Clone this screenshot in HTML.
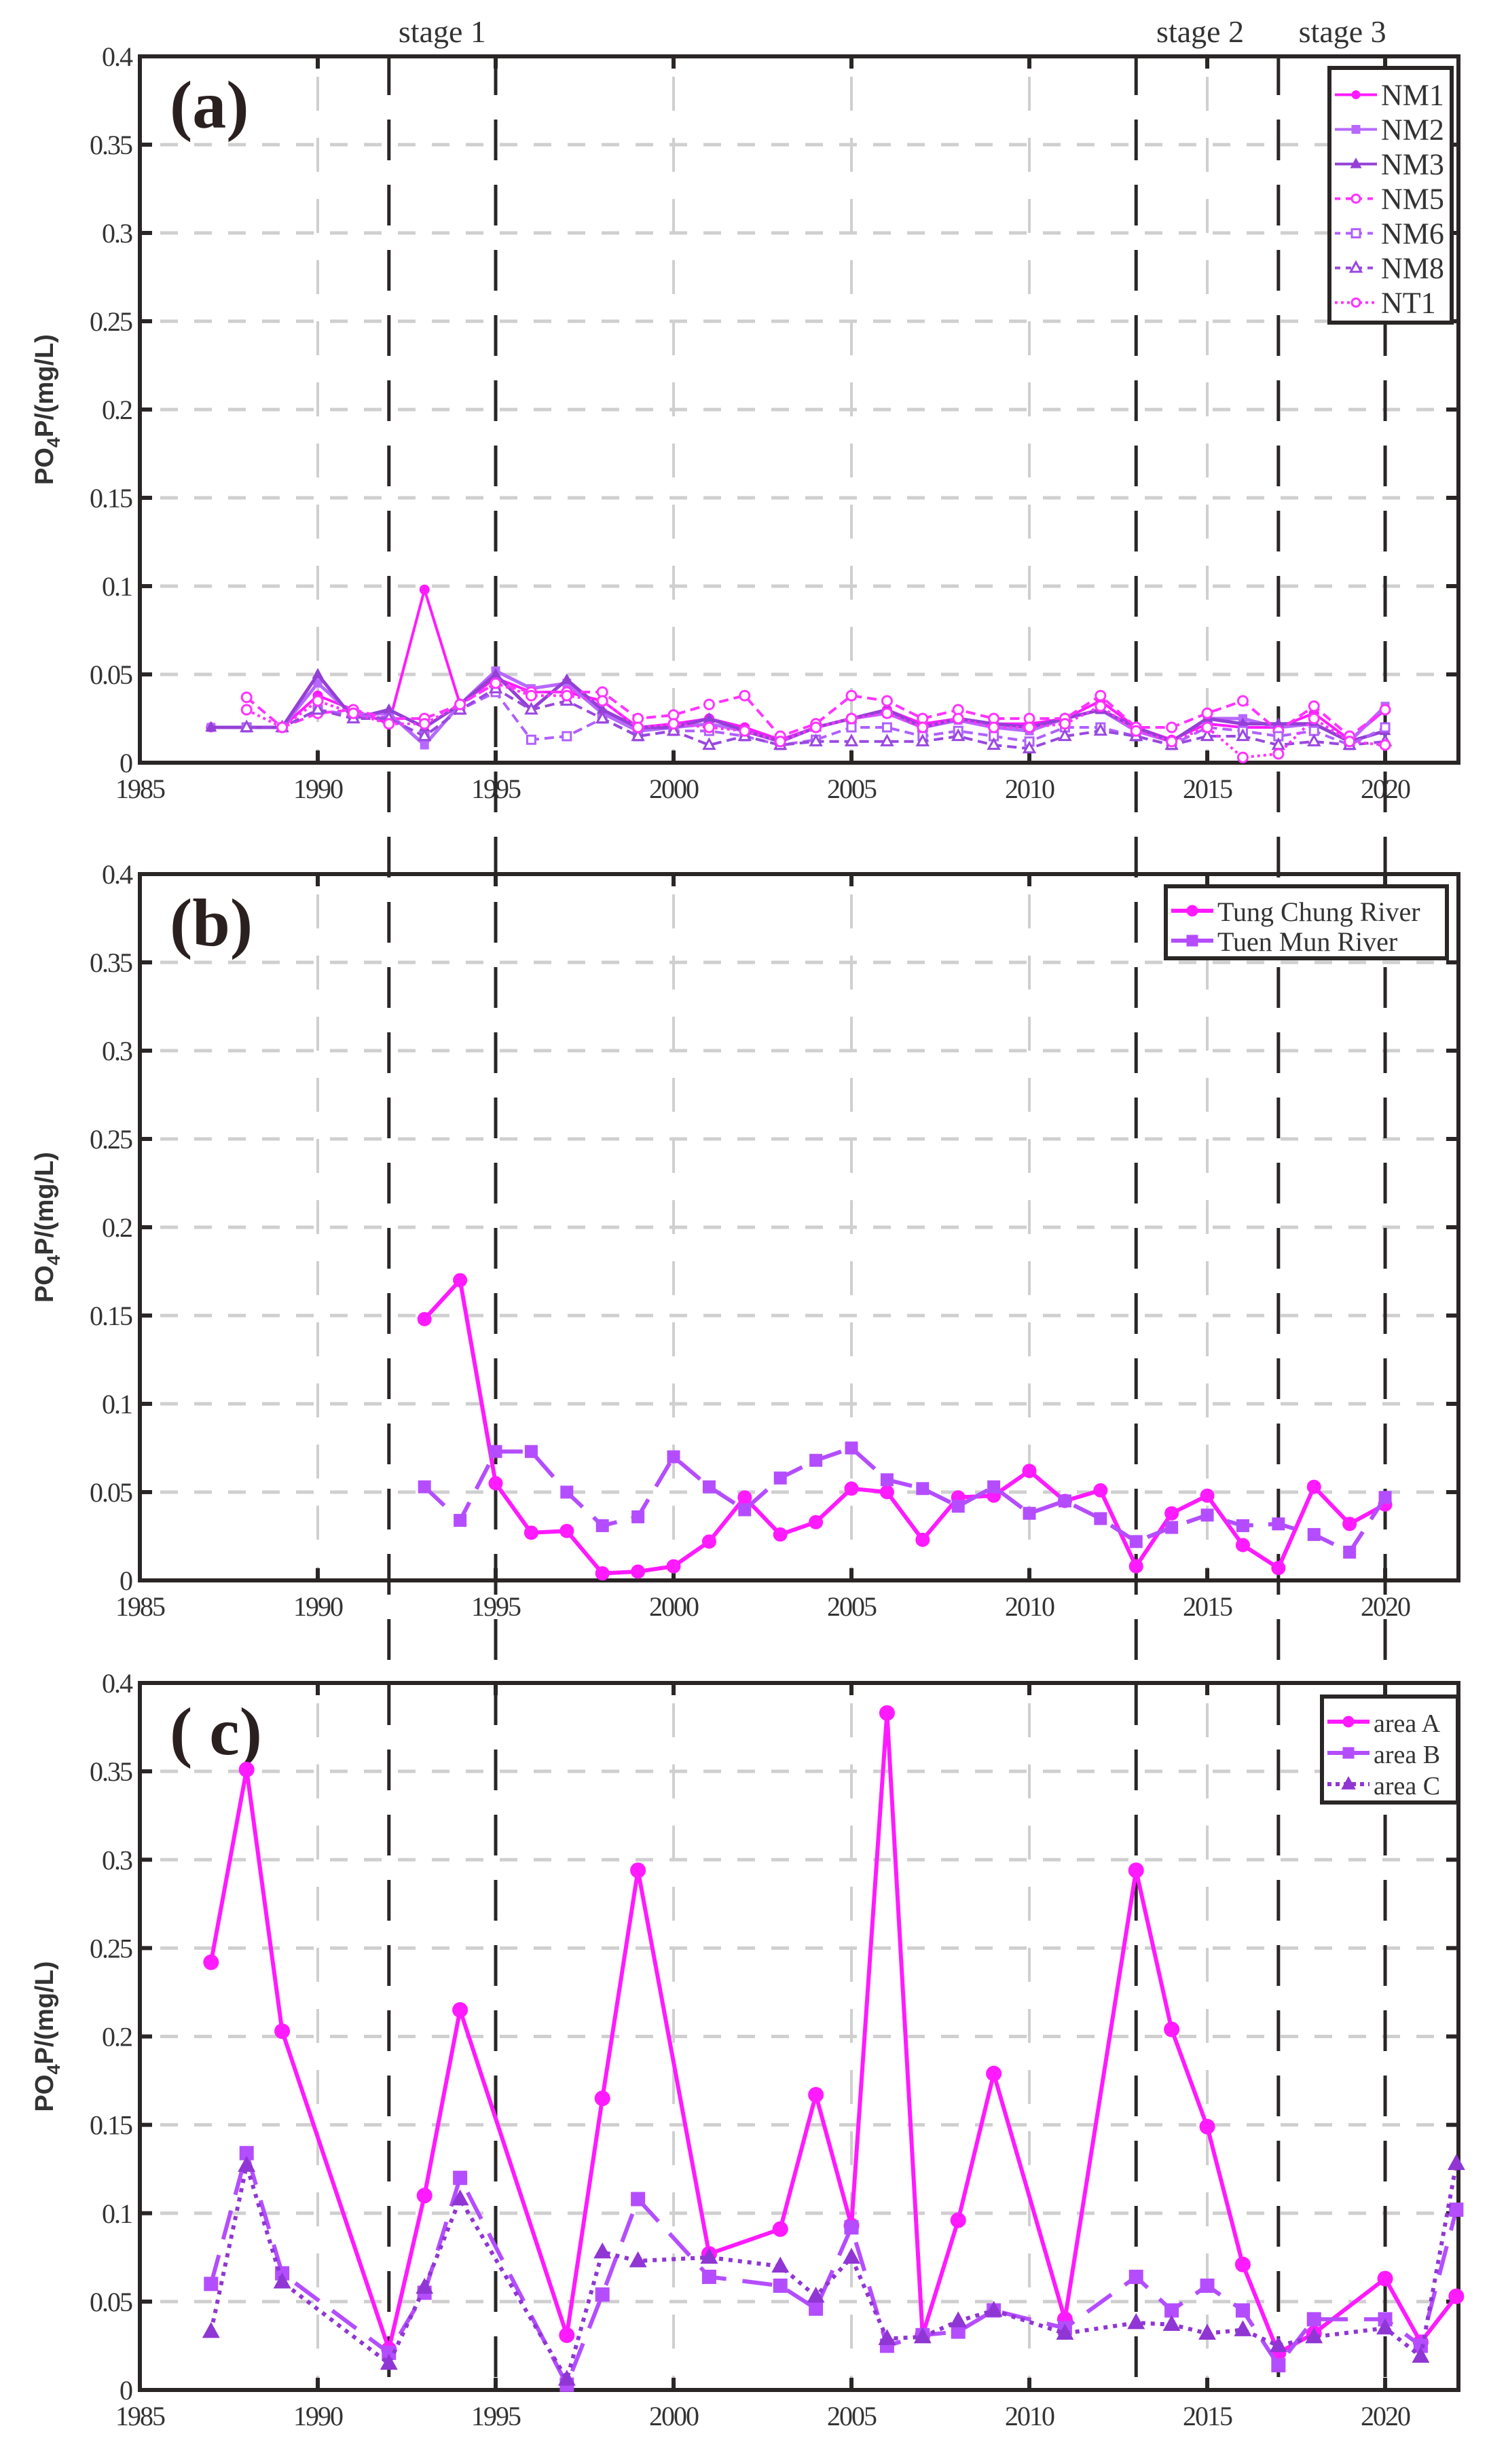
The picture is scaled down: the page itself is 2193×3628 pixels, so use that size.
<!DOCTYPE html>
<html><head><meta charset="utf-8"><style>
html,body{margin:0;padding:0;background:#fff;}
svg{display:block;}
</style></head><body>
<svg id="chart" width="2193" height="3628" viewBox="0 0 2193 3628" xmlns="http://www.w3.org/2000/svg"></svg>
<script>
// ---------- data ----------
const yTicks = [0,0.05,0.1,0.15,0.2,0.25,0.3,0.35,0.4];
const yTickLabels = ["0","0.05","0.1","0.15","0.2","0.25","0.3","0.35","0.4"];
const xTicks = [1985,1990,1995,2000,2005,2010,2015,2020];
const stageYears = [1992,1995,2013,2017,2020];
const stageNames = ["stage 1","stage 2","stage 3"];
const stageLabelYears = [1993.5,2014.8,2018.8];

const yearsA = [1987,1988,1989,1990,1991,1992,1993,1994,1995,1996,1997,1998,1999,2000,2001,2002,2003,2004,2005,2006,2007,2008,2009,2010,2011,2012,2013,2014,2015,2016,2017,2018,2019,2020];
const nm1 = [0.02,0.02,0.02,0.038,0.03,0.022,0.098,0.033,0.048,0.04,0.04,0.035,0.02,0.022,0.025,0.02,0.013,0.02,0.025,0.03,0.022,0.025,0.022,0.022,0.025,0.035,0.02,0.013,0.022,0.02,0.02,0.028,0.013,0.03];
const nm2 = [0.02,0.02,0.02,0.045,0.027,0.028,0.01,0.033,0.052,0.042,0.045,0.028,0.018,0.02,0.022,0.018,0.012,0.02,0.025,0.028,0.02,0.024,0.02,0.018,0.025,0.03,0.018,0.012,0.025,0.025,0.02,0.022,0.012,0.032];
const nm3 = [0.02,0.02,0.02,0.05,0.025,0.03,0.02,0.033,0.05,0.03,0.047,0.03,0.02,0.02,0.025,0.018,0.012,0.02,0.025,0.03,0.02,0.025,0.022,0.02,0.025,0.03,0.02,0.012,0.025,0.022,0.022,0.022,0.012,0.018];
const nm5 = [null,0.037,0.02,0.028,0.03,0.025,0.025,0.033,0.045,0.04,0.04,0.04,0.025,0.027,0.033,0.038,0.015,0.022,0.038,0.035,0.025,0.03,0.025,0.025,0.025,0.038,0.02,0.02,0.028,0.035,0.018,0.032,0.015,0.03];
const nm6 = [null,0.02,0.02,0.03,0.027,0.025,0.015,0.03,0.04,0.013,0.015,0.025,0.015,0.018,0.018,0.015,0.01,0.013,0.02,0.02,0.015,0.018,0.015,0.012,0.02,0.02,0.015,0.01,0.02,0.018,0.015,0.018,0.01,0.02];
const nm8 = [null,0.02,0.02,0.03,0.025,0.025,0.015,0.03,0.042,0.03,0.035,0.025,0.015,0.018,0.01,0.015,0.01,0.012,0.012,0.012,0.012,0.015,0.01,0.008,0.015,0.018,0.015,0.01,0.015,0.015,0.01,0.012,0.01,0.012];
const nt1 = [null,0.03,0.02,0.035,0.028,0.022,0.022,0.033,0.045,0.038,0.038,0.035,0.02,0.022,0.02,0.018,0.012,0.02,0.025,0.028,0.02,0.025,0.02,0.02,0.022,0.032,0.018,0.012,0.02,0.003,0.005,0.025,0.012,0.01];

const yearsB = [1993,1994,1995,1996,1997,1998,1999,2000,2001,2002,2003,2004,2005,2006,2007,2008,2009,2010,2011,2012,2013,2014,2015,2016,2017,2018,2019,2020];
const tungChung = [0.148,0.17,0.055,0.027,0.028,0.004,0.005,0.008,0.022,0.047,0.026,0.033,0.052,0.05,0.023,0.047,0.048,0.062,0.045,0.051,0.008,0.038,0.048,0.02,0.007,0.053,0.032,0.043];
const tuenMun = [0.053,0.034,0.073,0.073,0.05,0.031,0.036,0.07,0.053,0.04,0.058,0.068,0.075,0.057,0.052,0.042,0.053,0.038,0.045,0.035,0.022,0.03,0.037,0.031,0.032,0.026,0.016,0.047];

const yearsC = [1987,1988,1989,1992,1993,1994,1997,1998,1999,2001,2003,2004,2005,2006,2007,2008,2009,2011,2013,2014,2015,2016,2017,2018,2020,2021,2022];
const areaA = [0.242,0.351,0.203,0.023,0.11,0.215,0.031,0.165,0.294,0.077,0.091,0.167,0.093,0.383,0.031,0.096,0.179,0.04,0.294,0.204,0.149,0.071,0.021,0.032,0.063,0.027,0.053];
const areaB = [0.06,0.134,0.066,0.021,0.055,0.12,0.003,0.054,0.108,0.064,0.059,0.046,0.092,0.025,0.031,0.033,0.045,0.035,0.064,0.045,0.059,0.045,0.014,0.04,0.04,0.025,0.102];
const areaC = [0.033,0.127,0.061,0.015,0.058,0.108,0.006,0.078,0.073,0.075,0.07,0.053,0.075,0.029,0.03,0.039,0.045,0.032,0.038,0.037,0.032,0.034,0.025,0.03,0.035,0.019,0.128];

// ---------- layout ----------
const NS = "http://www.w3.org/2000/svg";
const svg = document.getElementById('chart');
const L = 206, R = 2148, X0 = 1985, X1 = 2022.06;
const panels = [{top:83,bottom:1123,label:"(a)"},{top:1287,bottom:2327,label:"(b)"},{top:2478,bottom:3519,label:"( c)"}];
const FONT = '"Liberation Serif", serif';
function xs(v){ return L + (v - X0) / (X1 - X0) * (R - L); }
function mk(tag, attrs, parent){ const e = document.createElementNS(NS, tag); for (const k in attrs) e.setAttribute(k, attrs[k]); (parent||svg).appendChild(e); return e; }

function marker(g, type, cx, cy, color, open, size){
  let e;
  const s = size;
  if (type === 'circle') e = mk('circle', {cx:cx, cy:cy, r:s}, g);
  else if (type === 'square') e = mk('rect', {x:cx-s, y:cy-s, width:2*s, height:2*s}, g);
  else e = mk('polygon', {points:`${cx},${cy-s*1.2} ${cx-s*1.1},${cy+s*0.8} ${cx+s*1.1},${cy+s*0.8}`}, g);
  e.setAttribute('fill', open ? '#fff' : color);
  e.setAttribute('stroke', color);
  e.setAttribute('stroke-width', open ? 3 : 1);
  return e;
}

function drawSeries(p, name, years, vals, color, dash, mtype, open, lw, ms){
  const ys = v => p.bottom - v / 0.4 * (p.bottom - p.top);
  const g = mk('g', {});
  
  
  let d = '', pen = false;
  years.forEach((yr, i) => {
    const v = vals[i];
    if (v === null) { pen = false; return; }
    d += (pen ? 'L' : 'M') + xs(yr).toFixed(1) + ' ' + ys(v).toFixed(1) + ' ';
    pen = true;
  });
  const path = mk('path', {d:d, fill:'none', stroke:color, 'stroke-width':lw, 'stroke-dasharray':dash, 'stroke-linejoin':'round'}, g);
  
  
  years.forEach((yr, i) => {
    const v = vals[i];
    if (v === null) return;
    const m = marker(g, mtype, xs(yr), ys(v), color, open, ms);
    
    
  });
}

function drawPanel(p, idx){
  const ys = v => p.bottom - v / 0.4 * (p.bottom - p.top);
  const g = mk('g', {});
  
  
  yTicks.forEach(t => {
    if (t === 0 || t === 0.4) return;
    const ln = mk('line', {x1:L+30, x2:R-10, y1:ys(t), y2:ys(t), stroke:'#cfcfcf', 'stroke-width':5, 'stroke-dasharray':'26 24'}, g);
    
    
  });
  xTicks.forEach(t => {
    if (t === 1985 || t === 1995 || t === 2020) return;
    const ln = mk('line', {x1:xs(t), x2:xs(t), y1:p.top+30, y2:p.bottom-10, stroke:'#cfcfcf', 'stroke-width':4, 'stroke-dasharray':'50 40'}, g);
    
    
  });
  const box = mk('rect', {x:L, y:p.top, width:R-L, height:p.bottom-p.top, fill:'none', stroke:'#2a2626', 'stroke-width':6}, g);
  
  
  yTicks.forEach((t, i) => {
    mk('line', {x1:L, x2:L+18, y1:ys(t), y2:ys(t), stroke:'#2a2626', 'stroke-width':6}, g);
    mk('line', {x1:R, x2:R-18, y1:ys(t), y2:ys(t), stroke:'#2a2626', 'stroke-width':6}, g);
    const tx = mk('text', {x:L-12, y:ys(t)+14, 'text-anchor':'end', 'font-family':FONT, 'font-size':40, fill:'#333', 'letter-spacing':'-2'}, g);
    tx.textContent = yTickLabels[i];
    
    
  });
  xTicks.forEach(t => {
    mk('line', {x1:xs(t), x2:xs(t), y1:p.bottom, y2:p.bottom-18, stroke:'#2a2626', 'stroke-width':6}, g);
    mk('line', {x1:xs(t), x2:xs(t), y1:p.top, y2:p.top+18, stroke:'#2a2626', 'stroke-width':6}, g);
    const tx = mk('text', {x:xs(t), y:p.bottom+52, 'text-anchor':'middle', 'font-family':FONT, 'font-size':40, fill:'#333', 'letter-spacing':'-2'}, g);
    tx.textContent = String(t);
    
    
  });
  const yt = mk('text', {transform:`translate(78 ${(p.top+p.bottom)/2}) rotate(-90)`, 'text-anchor':'middle', 'font-family':'"Liberation Sans", sans-serif', 'font-size':38, 'font-weight':'bold', fill:'#333'}, g);
  yt.innerHTML = 'PO<tspan font-size="27" dy="10">4</tspan><tspan dy="-10">P/(mg/L)</tspan>';
  
  
  const pl = mk('text', {x:250, y:p.top+105, 'font-family':FONT, 'font-size':100, 'font-weight':'bold', fill:'#2a2020'}, g);
  pl.textContent = p.label;
  
  
}

panels.forEach(drawPanel);

stageYears.forEach(yr => {
  const ln = mk('line', {x1:xs(yr), x2:xs(yr), y1:80, y2:3519, stroke:'#2a2626', 'stroke-width':5, 'stroke-dasharray':'60 36'});
  
  
});
stageNames.forEach((s, i) => {
  const t = mk('text', {x:xs(stageLabelYears[i]), y:62, 'text-anchor':'middle', 'font-family':FONT, 'font-size':46, fill:'#333'});
  t.textContent = s;
  
  
});

const pa = panels[0];
drawSeries(pa, 'nm1', yearsA, nm1, '#ff1aff', '', 'circle', false, 4, 7);
drawSeries(pa, 'nm2', yearsA, nm2, '#b768ff', '', 'square', false, 5, 6);
drawSeries(pa, 'nm3', yearsA, nm3, '#9440d6', '', 'triangle', false, 5, 7);
drawSeries(pa, 'nm5', yearsA, nm5, '#ff33ff', '14 8', 'circle', true, 4, 7);
drawSeries(pa, 'nm6', yearsA, nm6, '#b060ff', '14 8', 'square', true, 4, 6);
drawSeries(pa, 'nm8', yearsA, nm8, '#9a48e0', '14 8', 'triangle', true, 4, 7);
drawSeries(pa, 'nt1', yearsA, nt1, '#ff33ff', '4 5', 'circle', true, 4, 7);
const pb = panels[1];
drawSeries(pb, 'tung-chung-river', yearsB, tungChung, '#ff1aff', '', 'circle', false, 6, 10);
drawSeries(pb, 'tuen-mun-river', yearsB, tuenMun, '#b44dff', '40 22', 'square', false, 6, 9);
const pc = panels[2];
drawSeries(pc, 'area-a', yearsC, areaA, '#ff1aff', '', 'circle', false, 6, 11);
drawSeries(pc, 'area-b', yearsC, areaB, '#b44dff', '44 24', 'square', false, 6, 10);
drawSeries(pc, 'area-c', yearsC, areaC, '#9036d4', '6 8', 'triangle', false, 6, 11);

function legend(name, x, y, w, rowH, entries){
  const g = mk('g', {});
  
  
  mk('rect', {x:x, y:y, width:w, height:rowH*entries.length+18, fill:'#fff', stroke:'#2a2626', 'stroke-width':6}, g);
  entries.forEach((e, i) => {
    const cy = y + 14 + rowH*(i+0.5);
    const eg = mk('g', {}, g);
    
    
    mk('line', {x1:x+8, x2:x+70, y1:cy, y2:cy, stroke:e.c, 'stroke-width':e.lw, 'stroke-dasharray':e.d}, eg);
    marker(eg, e.m, x+39, cy, e.c, e.o, e.s);
    const t = mk('text', {x:x+76, y:cy+15, 'font-family':FONT, 'font-size':e.fs, fill:'#333'}, eg);
    t.textContent = e.t;
  });
}
legend('legend-a', 1958, 100, 180, 51, [
  {t:'NM1', c:'#ff1aff', d:'', m:'circle', o:false, lw:4, s:6, fs:44},
  {t:'NM2', c:'#b768ff', d:'', m:'square', o:false, lw:4, s:6, fs:44},
  {t:'NM3', c:'#9440d6', d:'', m:'triangle', o:false, lw:4, s:7, fs:44},
  {t:'NM5', c:'#ff33ff', d:'8 8', m:'circle', o:true, lw:4, s:6, fs:44},
  {t:'NM6', c:'#b060ff', d:'8 8', m:'square', o:true, lw:4, s:6, fs:44},
  {t:'NM8', c:'#9a48e0', d:'8 8', m:'triangle', o:true, lw:4, s:7, fs:44},
  {t:'NT1', c:'#ff33ff', d:'4 5', m:'circle', o:true, lw:4, s:6, fs:44}
]);
legend('legend-b', 1717, 1305, 414, 44, [
  {t:'Tung Chung River', c:'#ff1aff', d:'', m:'circle', o:false, lw:6, s:8, fs:40},
  {t:'Tuen Mun River', c:'#b44dff', d:'', m:'square', o:false, lw:6, s:8, fs:40}
]);
legend('legend-c', 1947, 2498, 200, 46, [
  {t:'area A', c:'#ff1aff', d:'', m:'circle', o:false, lw:6, s:8, fs:38},
  {t:'area B', c:'#b44dff', d:'', m:'square', o:false, lw:6, s:8, fs:38},
  {t:'area C', c:'#9036d4', d:'6 6', m:'triangle', o:false, lw:6, s:9, fs:38}
]);
</script>
</body></html>
